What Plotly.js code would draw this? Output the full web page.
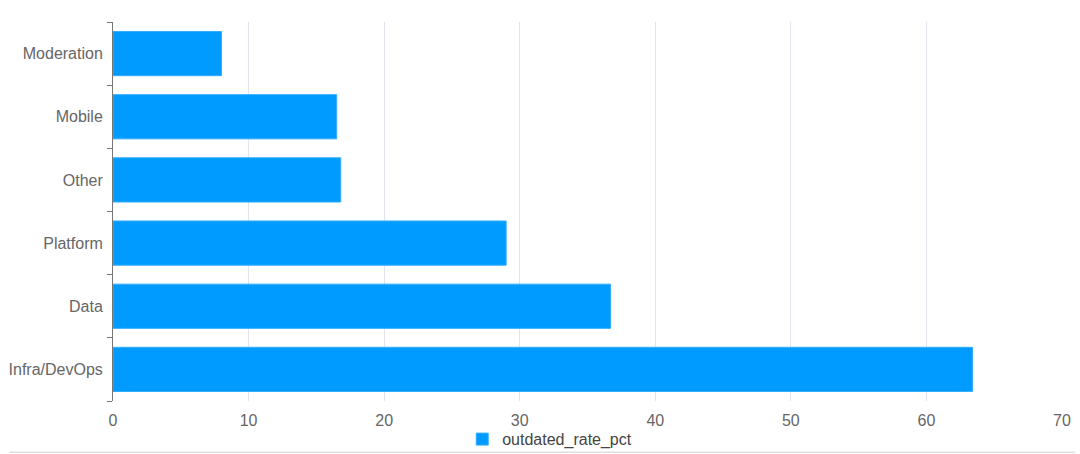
<!DOCTYPE html>
<html>
<head>
<meta charset="utf-8">
<script src="https://cdn.plot.ly/plotly-3.0.1.min.js"></script>
<style>
  html, body { margin: 0; padding: 0; background: #fff; }
  #chart { width: 1080px; height: 454px; }
</style>
</head>
<body>
<div id="chart"></div>
<script>
// teams, bottom to top as drawn
var teams = ['Infra/DevOps', 'Data', 'Platform', 'Other', 'Mobile', 'Moderation'];
var outdated_rate_pct = [63.4, 36.7, 29.0, 16.8, 16.5, 8.0];
var xTicks = [0, 10, 20, 30, 40, 50, 60, 70];

var bars = {
  type: 'bar',
  orientation: 'h',
  y: teams,
  x: outdated_rate_pct,
  name: 'outdated_rate_pct',
  marker: { color: '#009bff', line: { color: '#33adff', width: 1 } },
  showlegend: true
};

var layout = {
  width: 1080, height: 454,
  margin: { l: 113, r: 18, t: 22, b: 53, autoexpand: false },
  paper_bgcolor: '#fff', plot_bgcolor: '#fff',
  font: { family: 'Liberation Sans, Arial, sans-serif', size: 16, color: '#666' },
  bargap: 0.3,
  xaxis: {
    range: [0, 70], tickvals: xTicks,
    showgrid: true, gridcolor: '#dfe4ef', gridwidth: 1,
    zeroline: false, showline: false, ticks: '',
    automargin: false, ticklabelstandoff: 8,
    tickfont: { size: 16, color: '#666' }
  },
  yaxis: {
    showline: true, linecolor: '#777', linewidth: 1,
    ticks: 'outside', tickson: 'boundaries', ticklen: 5, tickcolor: '#777',
    showgrid: false, zeroline: false, automargin: false,
    ticklabelstandoff: 6,
    tickfont: { size: 16, color: '#666' }
  },
  legend: {
    orientation: 'h', xref: 'container', yref: 'container',
    x: 0.509, xanchor: 'center', y: 0.07, yanchor: 'top',
    bgcolor: 'rgba(0,0,0,0)',
    font: { size: 16, color: '#444' }
  },
  shapes: [{
    type: 'line', xref: 'paper', yref: 'paper',
    x0: -0.109, x1: 1.014, y0: -0.135, y1: -0.135,
    line: { color: '#cfcfcf', width: 1 }
  }]
};

Plotly.newPlot('chart', [bars], layout, { staticPlot: true });
</script>
</body>
</html>
